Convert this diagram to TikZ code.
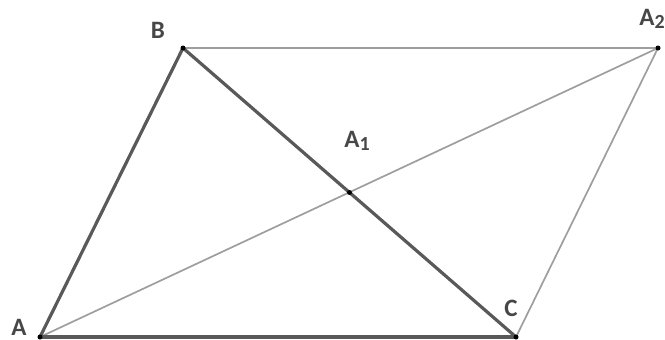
\documentclass[tikz,border=0pt]{standalone}
\usepackage{fontspec}
\setmainfont{Carlito}
\begin{document}
\begin{tikzpicture}[x=1pt,y=-1pt,
  thickln/.style={draw=black!65,line width=3.2pt},
  thinln/.style={draw=black!38,line width=1.7pt},
  lbl/.style={text=black!72,font=\bfseries\fontsize{25}{25}\selectfont,inner sep=0pt},
  pt/.style={circle,fill=black,inner sep=0pt,minimum size=5pt}]
\useasboundingbox (0,0) rectangle (665,340);
\coordinate (A) at (40,337);
\coordinate (B) at (183,48);
\coordinate (A2) at (658,48);
\coordinate (C) at (516,337);
\coordinate (A1) at (349.5,192.5);
\draw[thinln] (B) -- (A2);
\draw[thinln] (A2) -- (C);
\draw[thinln] (A) -- (A2);
\draw[thickln] (A) -- (B);
\draw[thickln] (B) -- (C);
\draw[thickln] (A) -- (C);
\foreach \p in {A,B,A2,C,A1} \node[pt] at (\p) {};
\node[lbl] (lA) at (19,327) {A};
\node[lbl] (lB) at (158,30) {B};
\node[lbl] (lA2) at (652,19) {A{\raisebox{-2.5pt}{\fontsize{20}{20}\selectfont 2}}};
\node[lbl] (lA1) at (357,141) {A{\raisebox{-2.5pt}{\fontsize{20}{20}\selectfont 1}}};
\node[lbl] (lC) at (511,308) {C};
\end{tikzpicture}
\end{document}
